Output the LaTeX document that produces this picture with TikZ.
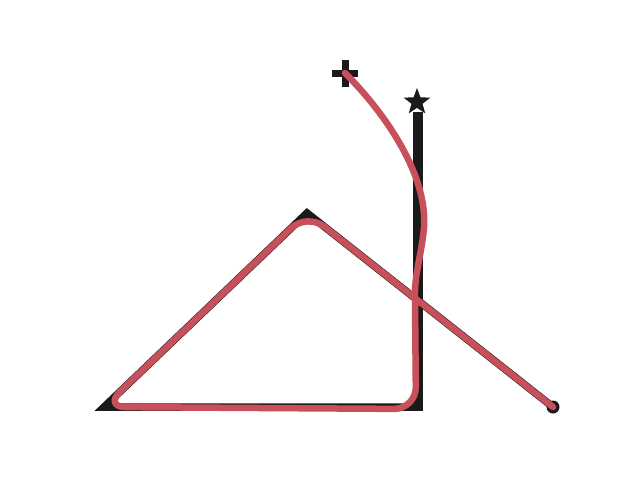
\documentclass[tikz,border=0pt]{standalone}
\usetikzlibrary{shapes.geometric}
\definecolor{ink}{HTML}{1A1A1A}
\definecolor{redline}{HTML}{C8505A}
\tikzset{
  blackpath/.style={draw=ink,line width=7.5pt,miter limit=10,line join=miter},
  blackpost/.style={draw=ink,line width=10pt},
  redpath/.style={draw=redline,line width=6.5pt,line cap=round,line join=round},
  starmark/.style={star,star points=5,star point ratio=2.4,fill=ink,inner sep=0pt,minimum size=28pt},
  dotmark/.style={circle,fill=ink,inner sep=0pt,minimum size=13pt}
}
\begin{document}
\begin{tikzpicture}[x=1pt,y=-1pt]
\useasboundingbox (0,0) rectangle (640,480);
\coordinate (e) at (553,407);
\coordinate (apex) at (307,213);
\coordinate (left) at (104,407);
\coordinate (br) at (418,407);
\coordinate (brb) at (418,411);
\coordinate (top) at (418,112);
\node[dotmark] (dot) at (e) {};
\draw[blackpath] (e) -- (apex) -- (left) -- (br);
\draw[blackpost] (brb) -- (top);
\node[starmark] (st) at (417,102) {};
% plus marker
\coordinate (p) at (345,73);
\fill[ink] (332,70) rectangle (358,77);
\fill[ink] (342,60) rectangle (349,87);
% red path
\draw[redpath] (p) .. controls (385,113) and (428,175) .. (424,228)
  .. controls (421,258) and (414,275) .. (415,300)
  [rounded corners=22pt] -- (416,409) -- (104,407) -- (307,213) -- (e);
\end{tikzpicture}
\end{document}
